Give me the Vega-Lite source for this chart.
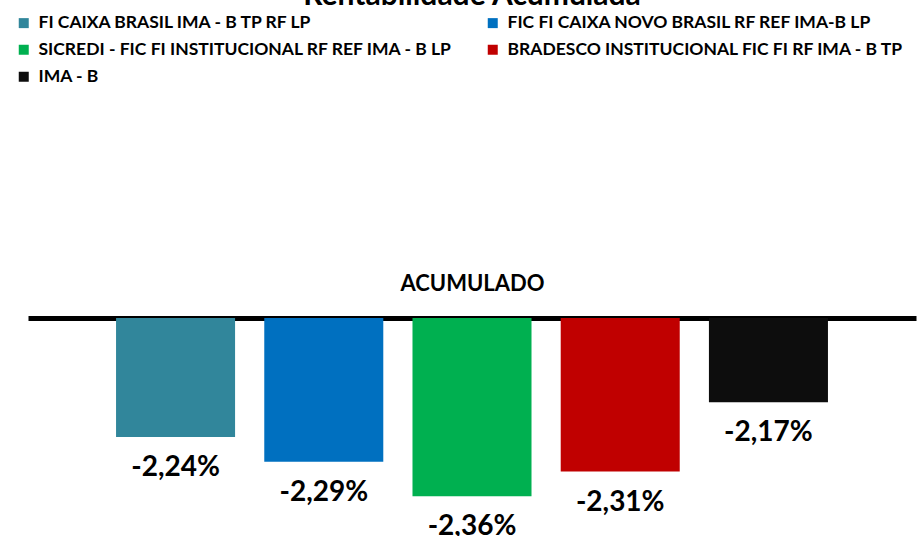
{
  "$schema": "https://vega.github.io/schema/vega-lite/v6.json",
  "width": 888,
  "height": 218,
  "autosize": "none",
  "padding": {"left": 28, "top": 318, "right": 6, "bottom": 0},
  "background": "white",
  "config": {"view": {"stroke": null}, "font": "Lato"},
  "title": {"text": "Rentabilidade Acumulada", "fontSize": 30, "fontWeight": "bold", "font": "Lato", "color": "#000000", "anchor": "middle", "baseline": "alphabetic", "offset": 0, "dy": 21},
  "data": {"values": [
    {"fundo": "FI CAIXA BRASIL IMA - B TP RF LP", "valor": -2.24, "rotulo": "-2,24%"},
    {"fundo": "FIC FI CAIXA NOVO BRASIL RF REF IMA-B LP", "valor": -2.29, "rotulo": "-2,29%"},
    {"fundo": "SICREDI - FIC FI INSTITUCIONAL RF REF IMA - B LP", "valor": -2.36, "rotulo": "-2,36%"},
    {"fundo": "BRADESCO INSTITUCIONAL FIC FI RF IMA - B TP", "valor": -2.31, "rotulo": "-2,31%"},
    {"fundo": "IMA - B", "valor": -2.17, "rotulo": "-2,17%"}
  ]},
  "encoding": {
    "x": {"field": "fundo", "type": "nominal", "sort": null,
      "scale": {"paddingInner": 0.197, "paddingOuter": 0.594},
      "axis": {"orient": "top", "title": "ACUMULADO", "labels": false, "ticks": false, "domainColor": "#000000", "domainWidth": 5, "titleFontSize": 22, "titleFontWeight": "bold", "titleColor": "#000000", "titlePadding": 23, "titleFont": "Lato"}}
  },
  "layer": [
    {
      "mark": {"type": "bar"},
      "encoding": {
        "y": {"field": "valor", "type": "quantitative", "scale": {"domain": [-2.44, -2.0], "nice": false, "zero": false}, "axis": null},
        "y2": {"datum": -2.0},
        "color": {"field": "fundo", "type": "nominal",
          "scale": {"domain": ["FI CAIXA BRASIL IMA - B TP RF LP", "FIC FI CAIXA NOVO BRASIL RF REF IMA-B LP", "SICREDI - FIC FI INSTITUCIONAL RF REF IMA - B LP", "BRADESCO INSTITUCIONAL FIC FI RF IMA - B TP", "IMA - B"],
            "range": ["#31869B", "#0070C0", "#00B050", "#C00000", "#0D0D0D"]},
          "legend": {"orient": "none", "legendX": -13, "legendY": -304, "columns": 2, "direction": "horizontal", "title": null, "symbolType": "square", "symbolSize": 100, "symbolStrokeWidth": 0, "labelFontSize": 17.5, "labelFontWeight": "bold", "labelFont": "Lato", "labelColor": "#000000", "labelLimit": 700, "rowPadding": 8, "columnPadding": 31, "labelOffset": 6}}
      }
    },
    {
      "mark": {"type": "text", "baseline": "middle", "dy": 31, "fontSize": 28, "fontWeight": "bold", "font": "Lato", "color": "#000000"},
      "encoding": {
        "y": {"field": "valor", "type": "quantitative"},
        "text": {"field": "rotulo"}
      }
    }
  ]
}
